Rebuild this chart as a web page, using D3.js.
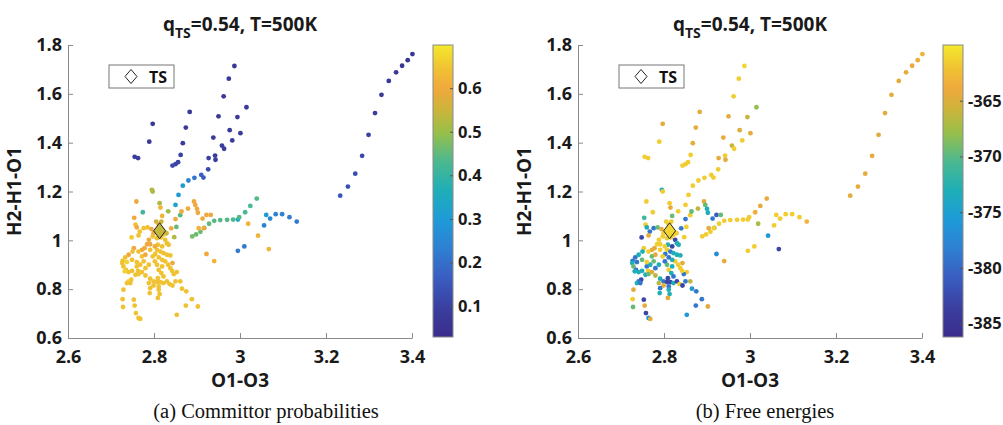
<!DOCTYPE html>
<html><head><meta charset="utf-8">
<script src="https://cdn.jsdelivr.net/npm/d3@7"></script>
<style>
body{margin:0;background:#fff;}
svg{display:block;}
</style></head><body>
<svg id="c" width="1003" height="425"></svg>
<script>
// ---- data: O1-O3 (x), H2-H1-O1 (y), committor q, free energy F ----
const ptX=[
2.987,2.974,2.962,3.015,2.883,2.797,2.950,2.994,2.874,2.976,3.001,2.789,2.867,2.938,2.982,2.958,2.963,2.862,2.755,2.763,2.942,2.943,2.927,2.856,2.850,2.843,2.926,2.910,2.915,2.894,2.880,2.867,
3.401,3.390,3.377,3.363,3.346,3.329,3.314,3.299,3.284,3.268,3.251,3.233,
2.795,2.797,2.857,2.850,2.759,2.813,2.815,2.774,2.833,2.861,2.864,2.819,2.754,2.893,2.896,2.900,2.902,2.879,2.850,2.922,2.932,2.913,
2.889,2.898,2.908,2.917,2.928,2.940,2.954,2.970,2.984,2.995,2.998,3.012,3.024,3.039,
3.061,3.070,3.083,3.098,3.115,3.132,3.056,3.019,3.042,3.067,3.010,2.995,2.922,2.940,2.904,2.916,2.852,2.847,2.840,2.748,
2.805,2.817,2.811,2.757,2.760,2.767,2.776,2.785,2.794,2.799,2.764,2.797,2.807,2.816,2.822,2.829,2.826,2.830,2.834,2.819,2.809,2.802,2.791,2.784,2.778,2.772,2.764,2.753,2.750,2.741,
2.733,2.727,2.726,2.729,2.735,2.741,2.749,2.760,2.768,2.776,2.772,2.780,2.757,2.747,2.741,2.737,2.745,2.763,2.764,2.772,2.780,2.791,2.799,2.807,2.815,2.822,2.830,2.836,2.843,2.850,
2.853,2.846,2.842,2.838,2.833,2.826,2.819,2.811,2.803,2.807,2.815,2.822,2.830,2.838,2.843,2.819,2.807,2.802,2.811,2.817,2.822,2.809,2.788,2.799,2.811,2.791,2.811,2.813,2.809,2.790,
2.861,2.865,2.875,2.888,2.902,2.874,2.853,2.729,2.727,2.728,2.753,2.755,2.758,2.764,2.768,2.760,2.749,2.737,2.732,2.788,2.791,2.797,2.788,2.780
];
const ptY=[
1.714,1.662,1.590,1.545,1.526,1.477,1.508,1.505,1.462,1.451,1.439,1.404,1.398,1.421,1.409,1.388,1.375,1.350,1.342,1.337,1.347,1.330,1.337,1.320,1.312,1.306,1.291,1.268,1.257,1.256,1.245,1.224,
1.763,1.738,1.715,1.688,1.653,1.596,1.521,1.432,1.346,1.273,1.220,1.183,
1.207,1.200,1.186,1.145,1.159,1.152,1.134,1.115,1.119,1.103,1.118,1.100,1.092,1.159,1.145,1.129,1.113,1.130,1.087,1.104,1.104,1.089,
1.016,1.024,1.035,1.051,1.068,1.080,1.083,1.084,1.085,1.085,1.095,1.115,1.141,1.171,
1.104,1.089,1.107,1.107,1.095,1.077,1.061,1.068,1.019,0.964,0.975,0.957,0.944,0.915,1.050,1.050,1.055,1.013,1.049,1.012,
1.077,1.077,1.064,1.064,1.053,1.036,1.050,1.053,1.046,1.029,1.020,1.016,1.009,1.012,1.023,1.029,1.002,0.988,0.982,0.975,0.982,0.975,0.984,0.984,0.968,0.961,0.954,0.968,0.954,0.941,
0.930,0.916,0.907,0.893,0.879,0.870,0.875,0.893,0.900,0.914,0.934,0.941,0.859,0.839,0.832,0.825,0.825,0.875,0.862,0.870,0.856,0.843,0.832,0.829,0.829,0.825,0.832,0.821,0.815,0.832,
0.870,0.862,0.875,0.886,0.900,0.914,0.920,0.930,0.944,0.961,0.954,0.948,0.941,0.938,0.907,0.893,0.900,0.914,0.879,0.866,0.852,0.845,0.825,0.815,0.811,0.804,0.798,0.780,0.764,0.784,
0.832,0.802,0.791,0.759,0.729,0.733,0.695,0.798,0.759,0.727,0.757,0.733,0.702,0.682,0.678,0.911,0.920,0.911,0.873,1.002,0.961,0.934,0.900,0.886
];
const ptQ=[
0.07,0.07,0.07,0.08,0.07,0.07,0.07,0.08,0.08,0.08,0.08,0.08,0.09,0.08,0.08,0.09,0.09,0.10,0.09,0.09,0.09,0.09,0.10,0.11,0.11,0.12,0.13,0.17,0.16,0.21,0.25,0.30,
0.06,0.06,0.06,0.07,0.07,0.08,0.09,0.10,0.12,0.13,0.14,0.15,
0.52,0.52,0.30,0.33,0.60,0.52,0.62,0.42,0.50,0.44,0.60,0.62,0.60,0.60,0.60,0.60,0.60,0.60,0.60,0.60,0.60,0.60,
0.47,0.46,0.46,0.45,0.45,0.44,0.44,0.44,0.43,0.35,0.44,0.43,0.43,0.44,
0.30,0.25,0.24,0.24,0.23,0.22,0.24,0.62,0.62,0.62,0.22,0.22,0.60,0.62,0.62,0.60,0.45,0.52,0.60,0.66,
0.56,0.55,0.60,0.645,0.60,0.645,0.645,0.645,0.60,0.60,0.645,0.645,0.645,0.645,0.645,0.56,0.645,0.645,0.645,0.645,0.645,0.60,0.60,0.60,0.60,0.60,0.645,0.60,0.645,0.60,
0.645,0.645,0.645,0.645,0.645,0.645,0.645,0.645,0.645,0.645,0.645,0.60,0.645,0.645,0.67,0.645,0.645,0.645,0.645,0.645,0.645,0.645,0.645,0.645,0.645,0.645,0.645,0.645,0.645,0.645,
0.645,0.645,0.645,0.645,0.645,0.645,0.645,0.645,0.645,0.645,0.645,0.645,0.645,0.645,0.60,0.645,0.645,0.645,0.645,0.645,0.645,0.645,0.645,0.645,0.645,0.645,0.645,0.645,0.645,0.645,
0.645,0.645,0.645,0.645,0.645,0.645,0.645,0.645,0.645,0.645,0.645,0.645,0.645,0.645,0.645,0.645,0.645,0.67,0.67,0.60,0.645,0.645,0.645,0.645
];
const ptF=[
-361,-361.5,-361.5,-368,-364.5,-364.5,-364.5,-366,-364.5,-365,-364.5,-361.5,-364.5,-364.5,-361.5,-366,-361.5,-361.5,-361.5,-361.5,-361.5,-364.5,-364.5,-361.5,-361.5,-361.5,-361.5,-361.5,-361.5,-361.5,-361.5,-361.5,
-363,-363.5,-364,-364.5,-364.5,-364.5,-364.5,-365,-364.5,-364.5,-364.5,-364.5,
-373,-361.5,-361.5,-361.5,-361.5,-361.5,-364.5,-361.5,-361.5,-361.5,-369.5,-369.5,-371,-364.5,-369.5,-373,-373,-366.5,-379,-381,-369.5,-379,
-361.5,-361.5,-361.5,-369.5,-361.5,-361.5,-361.5,-361.5,-361.5,-361.5,-361.5,-363.5,-364.5,-364.5,
-361.5,-361.5,-361.5,-361.5,-361.5,-363,-361.5,-367,-376,-383,-361.5,-361.5,-377,-364.5,-364.5,-361.5,-361.5,-361.5,-379,-383,
-361.5,-361.5,-361.5,-361.5,-373,-379,-379,-369.5,-364.5,-361.5,-364.5,-361.5,-361.5,-361.5,-361.5,-361.5,-383,-373,-373,-383,-373,-361.5,-361.5,-361.5,-364.5,-364.5,-361.5,-361.5,-373,-373,
-379,-379,-373,-369.5,-379,-373,-373,-379,-373,-369.5,-369.5,-364.5,-373,-383,-379,-373,-379,-361.5,-369.5,-364.5,-366.5,-373,-379,-383,-383,-373,-383,-361.5,-383,-379,
-361.5,-379,-361.5,-361.5,-361.5,-361.5,-373,-379,-379,-361.5,-379,-373,-373,-373,-364.5,-373,-369.5,-379,-361.5,-373,-379,-383,-366.5,-364.5,-379,-379,-373,-373,-364.5,-373,
-366.5,-376,-379,-379,-364.5,-379,-376,-364.5,-361.5,-369.5,-383,-364.5,-383,-376,-364.5,-361.5,-369.5,-379,-373,-361.5,-361.5,-361.5,-373,-379
];
const tsX=[2.813], tsY=[1.039], tsQ=[0.54], tsF=[-361];
const xTicks=[2.6,2.8,3,3.2,3.4];
const yTicks=[0.6,0.8,1,1.2,1.4,1.6,1.8];
const qTicks=[0.1,0.2,0.3,0.4,0.5,0.6];
const fTicks=[-385,-380,-375,-370,-365];
const qDomain=[0.029,0.699];
const fDomain=[-386.2,-360.0];

// ---- colormap (parula-like, as printed) ----
const cmStops=[0,.1,.2,.3,.4,.5,.6,.7,.78,.85,.92,1];
const cmCols=["#3b2c8c","#3a3f9f","#3a5cc0","#2f7fd2","#1e9ad8","#1eaeb8","#4bb890","#98bf4a","#cdb43a","#f0a83e","#f0c232","#f4e82c"];
const cmap=d3.scaleLinear().domain(cmStops).range(cmCols).interpolate(d3.interpolateRgb).clamp(true);

const SANS='"Open Sans","Noto Sans",sans-serif';
const svg=d3.select("#c");
const defs=svg.append("defs");
const grad=defs.append("linearGradient").attr("id","cm").attr("x1",0).attr("y1",1).attr("x2",0).attr("y2",0);
d3.range(0,1.0001,0.02).forEach(t=>grad.append("stop").attr("offset",t).attr("stop-color",cmap(t)));

const TOP=45,BOT=338,PW=344;
const fmt=d=>String(d);

function panel(o){
  const g=svg.append("g");
  const x=d3.scaleLinear().domain([2.6,3.4]).range([o.left,o.left+PW]);
  const y=d3.scaleLinear().domain([0.6,1.8]).range([BOT,TOP]);
  const c=d3.scaleLinear().domain(o.cdom).range([0,1]);
  g.append("g").selectAll("circle").data(d3.range(ptX.length)).join("circle")
    .attr("cx",i=>x(ptX[i])).attr("cy",i=>y(ptY[i])).attr("r",2.4)
    .attr("fill",i=>cmap(c(o.vals[i])));
  // TS diamond
  const dx=x(tsX[0]),dy=y(tsY[0]);
  g.append("path").attr("d",`M${dx},${dy-8}L${dx+6},${dy}L${dx},${dy+8}L${dx-6},${dy}Z`)
    .attr("fill",cmap(c(o.ts))).attr("stroke","#222").attr("stroke-width",1);
  // axes
  const ya=g.append("g").attr("transform",`translate(${o.left},0)`)
    .call(d3.axisLeft(y).tickValues(yTicks).tickSize(-5).tickSizeOuter(0).tickPadding(6).tickFormat(fmt));
  const xa=g.append("g").attr("transform",`translate(0,${BOT})`)
    .call(d3.axisBottom(x).tickValues(xTicks).tickSize(-5).tickSizeOuter(0).tickPadding(12).tickFormat(fmt));
  [ya,xa].forEach(a=>{
    a.select(".domain").attr("stroke","#8a8a8a");
    a.selectAll(".tick line").attr("stroke","#8a8a8a");
    a.selectAll("text").attr("font-family",SANS).attr("font-weight",700).attr("font-size",18).attr("fill","#1a1a1a");
  });
  // axis labels
  g.append("text").attr("x",o.left+PW/2).attr("y",387).attr("text-anchor","middle")
    .attr("font-family",SANS).attr("font-weight",700).attr("font-size",19).attr("fill","#1a1a1a").text("O1-O3");
  g.append("text").attr("transform",`translate(${o.left-47},${(TOP+BOT)/2}) rotate(-90)`).attr("text-anchor","middle")
    .attr("font-family",SANS).attr("font-weight",700).attr("font-size",19).attr("fill","#1a1a1a").text("H2-H1-O1");
  // title
  const t=g.append("text").attr("x",o.left+172).attr("y",31).attr("text-anchor","middle")
    .attr("font-family",SANS).attr("font-weight",700).attr("font-size",19).attr("fill","#1a1a1a");
  t.append("tspan").text("q");
  t.append("tspan").attr("dy",7).attr("font-size",14).text("TS");
  t.append("tspan").attr("dy",-7).text("=0.54, T=500K");
  // legend
  const lx=o.left+41;
  g.append("rect").attr("x",lx).attr("y",65).attr("width",65).attr("height",23).attr("fill","#fff").attr("stroke","#777");
  const ldx=lx+22,ldy=76.5;
  g.append("path").attr("d",`M${ldx},${ldy-7}L${ldx+6},${ldy}L${ldx},${ldy+7}L${ldx-6},${ldy}Z`).attr("fill","#fff").attr("stroke","#222");
  g.append("text").attr("x",lx+40).attr("y",83).attr("font-family",SANS).attr("font-weight",700).attr("font-size",16).attr("fill","#111").text("TS");
  // colorbar
  const cbx=o.left+365, cbw=20;
  const cy=d3.scaleLinear().domain(o.cdom).range([337,TOP]);
  g.append("rect").attr("x",cbx).attr("y",TOP).attr("width",cbw).attr("height",337-TOP).attr("fill","url(#cm)").attr("stroke","#8a8a8a");
  const ca=g.append("g").attr("transform",`translate(${cbx+cbw},0)`)
    .call(d3.axisRight(cy).tickValues(o.cticks).tickSize(-3).tickSizeOuter(0).tickPadding(5).tickFormat(fmt));
  ca.select(".domain").remove();
  ca.selectAll(".tick line").attr("stroke","#555");
  ca.selectAll("text").attr("font-family",SANS).attr("font-weight",700).attr("font-size",16.5).attr("fill","#1a1a1a");
  // caption
  svg.append("text").attr("x",o.capX).attr("y",418).attr("text-anchor","middle")
    .attr("font-family",'"Liberation Serif","Times New Roman",serif').attr("font-size",20.5).attr("fill","#111").text(o.caption);
}

panel({left:68,vals:ptQ,cdom:qDomain,cticks:qTicks,ts:tsQ[0],caption:"(a) Committor probabilities",capX:266});
panel({left:578,vals:ptF,cdom:fDomain,cticks:fTicks,ts:tsF[0],caption:"(b) Free energies",capX:765});
</script>
</body></html>
